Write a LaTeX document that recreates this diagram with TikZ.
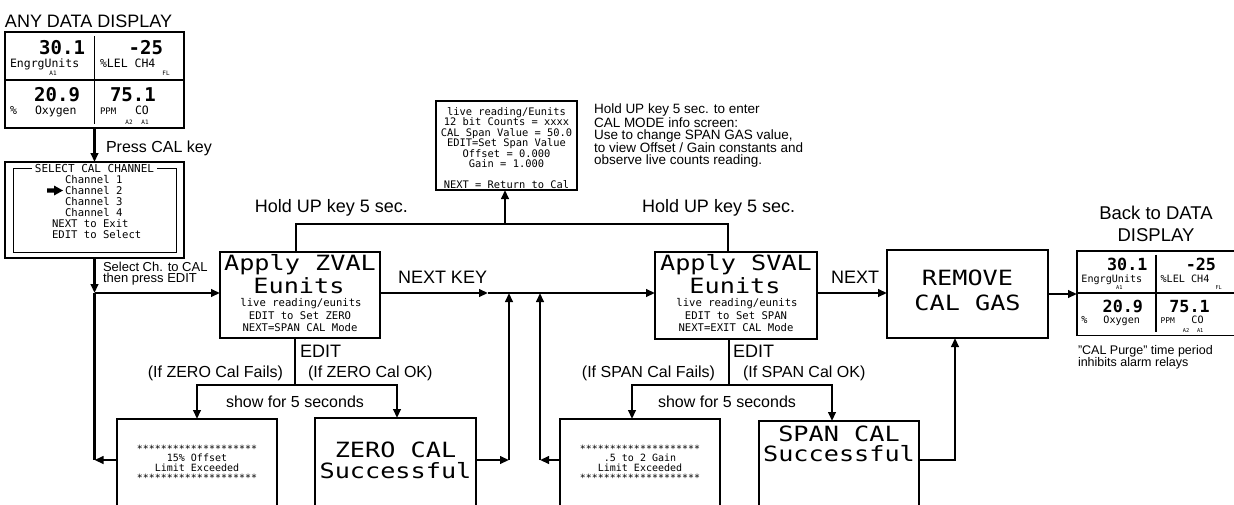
\documentclass[tikz,border=0pt]{standalone}
\usepackage{fontspec}
\setmainfont{Liberation Sans}
\newfontfamily\lcd{DejaVu Sans Mono}
\newfontfamily\lcdw[FakeStretch=1.2]{DejaVu Sans Mono}
\usetikzlibrary{arrows.meta}

% data display, local coordinates 0..179 x 0..96 (y down)
\newcommand\DataDisplay[1]{%
  \node[box, anchor=north west, minimum width=179pt, minimum height=96pt] (#1) at (0,0) {};
  \draw[line width=1.5pt] (#1.west) -- (#1.east);
  \draw[line width=1.5pt] (89.5,4) -- (89.5,92);
  \node[dig, anchor=base east] (#1n1) at (80,22) {30.1};
  \node[lcdmid, anchor=base west] (#1u1) at (5,35.5) {EngrgUnits};
  \node[lcdtiny] (#1a1) at (48,41) {A1};
  \node[dig, anchor=base east] (#1n2) at (158,22) {-25};
  \node[lcdmid, anchor=base west] (#1u2) at (95,35.5) {\%LEL CH4};
  \node[lcdtiny] (#1f) at (161,41) {FL};
  \node[dig, anchor=base east] (#1n3) at (75,69.5) {20.9};
  \node[lcdmid, anchor=base west] (#1u3) at (5,82) {\%};
  \node[lcdmid, anchor=base west] (#1u4) at (30,82) {Oxygen};
  \node[dig, anchor=base west] (#1n4) at (105,69.5) {75.1};
  \node[lcdsmall, anchor=base west] (#1u5) at (95,82) {PPM};
  \node[lcdmid, anchor=base west] (#1u6) at (130,82) {CO};
  \node[lcdtiny] (#1a2) at (124,90.5) {A2};
  \node[lcdtiny] (#1a3) at (140,90.5) {A1};
}

\begin{document}
\begin{tikzpicture}[x=1pt,y=-1pt,
  box/.style={draw,line width=1.3pt,inner sep=0pt,outer sep=0pt},
  conn/.style={line width=2.4pt},
  arr/.style={line width=2.4pt,-{Triangle[length=9pt,width=7.5pt]}},
  txt/.style={inner sep=0pt,outer sep=0pt},
  labA/.style={txt,font=\fontsize{18}{20}\selectfont},
  labB/.style={txt,font=\fontsize{16}{18}\selectfont},
  lcdbig/.style={txt,font=\lcdw\fontsize{21}{21}\selectfont},
  lcdsm/.style={txt,font=\lcd\fontsize{10.6}{12}\selectfont},
  lcdmid/.style={txt,font=\lcd\fontsize{11.5}{12}\selectfont},
  lcdsmall/.style={txt,font=\lcd\fontsize{9}{9}\selectfont},
  lcdtiny/.style={txt,font=\lcd\fontsize{6}{6}\selectfont},
  dig/.style={txt,font=\lcd\bfseries\fontsize{19}{20}\selectfont},
  lcdmsg/.style={txt,font=\lcd\fontsize{10}{9.6}\selectfont,align=center},
]
\fill[white] (0,0) rectangle (1234,504);
\useasboundingbox (0,0) rectangle (1234,504);

% ---------- left column ----------
\node[labA, anchor=base west] (anytitle) at (5,27) {ANY DATA DISPLAY};
\begin{scope}[shift={(5,32)}]
  \DataDisplay{disp}
\end{scope}
\node[labB, anchor=base west] (presscal) at (106,152) {Press CAL key};

\node[box, anchor=north west, minimum width=179pt, minimum height=96pt] (sel) at (5,162) {};
\node[draw, line width=1pt, anchor=north west, minimum width=163pt, minimum height=84pt, inner sep=0pt] (selin) at (13,168) {};
\node[txt, font=\lcd\fontsize{11}{12}\selectfont, fill=white, inner xsep=3pt] (seltitle) at (94.5,168) {SELECT CAL CHANNEL};
\node[lcdsm, anchor=base west] (ch1) at (65,183) {Channel 1};
\node[lcdsm, anchor=base west] (ch2) at (65,194) {Channel 2};
\node[lcdsm, anchor=base west] (ch3) at (65,205) {Channel 3};
\node[lcdsm, anchor=base west] (ch4) at (65,216) {Channel 4};
\node[lcdsm, anchor=base west] (nexit) at (52,227) {NEXT to Exit};
\node[lcdsm, anchor=base west] (esel) at (52,238) {EDIT to Select};
\fill (47,188.3) -- (54,188.3) -- (54,185.5) -- (63,190.5) -- (54,195.5) -- (54,192.7) -- (47,192.7) -- cycle;

\node[txt, font=\fontsize{13}{11}\selectfont, align=left, anchor=north west] (selnote) at (103,262.5) {Select Ch. to CAL\\then press EDIT};

% ---------- main boxes ----------
\node[box, minimum width=160pt, minimum height=86pt] (zval) at (300,295) {};
\node[lcdbig, anchor=base] (zv1) at (300,270) {Apply ZVAL};
\node[lcdbig, anchor=base] (zv2) at (299,293) {Eunits};
\node[lcdsm, anchor=base] (zv3) at (301,306) {live reading/eunits};
\node[lcdsm, anchor=base] (zv4) at (300,319) {EDIT to Set ZERO};
\node[lcdsm, anchor=base] (zv5) at (300,331) {NEXT=SPAN CAL Mode};

\node[box, minimum width=162pt, minimum height=87pt] (sval) at (736,295.5) {};
\node[lcdbig, anchor=base] (sv1) at (736,270) {Apply SVAL};
\node[lcdbig, anchor=base] (sv2) at (735,293) {Eunits};
\node[lcdsm, anchor=base] (sv3) at (737,306) {live reading/eunits};
\node[lcdsm, anchor=base] (sv4) at (736,319) {EDIT to Set SPAN};
\node[lcdsm, anchor=base] (sv5) at (736,331) {NEXT=EXIT CAL Mode};

\node[box, minimum width=161pt, minimum height=88pt] (remove) at (967.5,294) {};
\node[lcdbig, anchor=base] (rm1) at (967.5,285) {REMOVE};
\node[lcdbig, anchor=base] (rm2) at (967.5,310) {CAL GAS};

\node[box, minimum width=141pt, minimum height=89pt] (info) at (506.5,145.5) {};
\node[txt, font=\lcd\fontsize{10.4}{10.5}\selectfont, align=center] (infotxt) at (506.5,148) {live reading/Eunits\\12 bit Counts = xxxx\\CAL Span Value = 50.0\\EDIT=Set Span Value\\Offset = 0.000\\Gain = 1.000\\[10.5pt]NEXT = Return to Cal};
\node[txt, font=\fontsize{13.5}{12}\selectfont, align=left, anchor=north west] (infonote) at (594,104) {Hold UP key 5 sec. to enter\\CAL MODE info screen:\\Use to change SPAN GAS value,\\to view Offset / Gain constants and\\observe live counts reading.};

% ---------- result boxes ----------
\node[box, minimum width=160pt, minimum height=102pt, anchor=north] (zfail) at (197,419) {};
\node[lcdmsg] (zfailtxt) at (197,463) {********************\\15\% Offset\\Limit Exceeded\\********************};
\node[box, minimum width=161pt, minimum height=102pt, anchor=north] (zcal) at (395.5,418) {};
\node[lcdbig, anchor=base] (zc1) at (395.5,457) {ZERO CAL};
\node[lcdbig, anchor=base] (zc2) at (395.5,478) {Successful};

\node[box, minimum width=160pt, minimum height=102pt, anchor=north] (sfail) at (640,419) {};
\node[lcdmsg] (sfailtxt) at (640,463) {********************\\.5 to 2 Gain\\Limit Exceeded\\********************};
\node[box, minimum width=160pt, minimum height=102pt, anchor=north] (scal) at (839,421) {};
\node[lcdbig, anchor=base] (sc1) at (839,441) {SPAN CAL};
\node[lcdbig, anchor=base] (sc2) at (839,461.5) {Successful};

% ---------- right display ----------
\node[txt, font=\fontsize{18.5}{22}\selectfont, align=center, anchor=north] (backtitle) at (1156,206.5) {Back to DATA\\DISPLAY};
\begin{scope}[shift={(1077,251)}, scale=0.88, transform shape]
  \DataDisplay{back}
\end{scope}
\node[txt, font=\fontsize{12.5}{11.5}\selectfont, align=left, anchor=north west] (purge) at (1078,345) {"CAL Purge" time period\\inhibits alarm relays};

% ---------- labels ----------
\node[labA, anchor=base east] (holdL) at (408,212) {Hold UP key 5 sec.};
\node[labA, anchor=base west] (holdR) at (642,212) {Hold UP key 5 sec.};
\node[labA, anchor=base west] (nextkey) at (398,283) {NEXT KEY};
\node[labA, anchor=base west] (nextlab) at (831,283) {NEXT};
\node[labA, anchor=base west] (editZ) at (300,357) {EDIT};
\node[labA, anchor=base west] (editS) at (733,357) {EDIT};
\node[labB, anchor=base east] (zfails) at (283,377) {(If ZERO Cal Fails)};
\node[labB, anchor=base west] (zok) at (308,377) {(If ZERO Cal OK)};
\node[labB, anchor=base] (show1) at (295,407) {show for 5 seconds};
\node[labB, anchor=base east] (sfails) at (715,377) {(If SPAN Cal Fails)};
\node[labB, anchor=base west] (sok) at (743,377) {(If SPAN Cal OK)};
\node[labB, anchor=base] (show2) at (727,407) {show for 5 seconds};

% ---------- junction coordinates ----------
\coordinate (j1) at (94.5,293);
\coordinate (j2) at (94.5,460);
\coordinate (nk) at (488,293);
\coordinate (u1) at (509,460);
\coordinate (u1t) at (509,293);
\coordinate (u2) at (540,460);
\coordinate (u2t) at (540,293);
\coordinate (t1) at (296,224);
\coordinate (t2) at (728,224);
\coordinate (t0) at (505,224);
\coordinate (e1) at (295,385);
\coordinate (e1l) at (197,385);
\coordinate (e1r) at (397,385);
\coordinate (e2) at (729,385);
\coordinate (e2l) at (632,385);
\coordinate (e2r) at (832,385);
\coordinate (r1) at (955,460);

% ---------- connectors ----------
\draw[arr] (disp.south) -- (sel.north);
\draw[arr] (sel.south) -- (j1);
\draw[arr] (j1) -- (zval.west |- j1);
\draw[conn] (j1) -- (j2);
\draw[arr] (zfail.west |- j2) -- (j2);
\draw[arr] (zval.east |- nk) -- (nk);
\draw[arr] (nk) -- (sval.west |- nk);
\draw[arr] (zcal.east |- u1) -- (u1);
\draw[arr] (u1) -- (u1t);
\draw[arr] (sfail.west |- u2) -- (u2);
\draw[arr] (u2) -- (u2t);
\draw[conn] (zval.north -| t1) -- (t1) -- (t2) -- (sval.north -| t2);
\draw[arr] (t0) -- (info.south -| t0);
\draw[conn] (zval.south -| e1) -- (e1);
\draw[arr] (e1) -- (e1l) -- (zfail.north -| e1l);
\draw[arr] (e1) -- (e1r) -- (zcal.north -| e1r);
\draw[conn] (sval.south -| e2) -- (e2);
\draw[arr] (e2) -- (e2l) -- (sfail.north -| e2l);
\draw[arr] (e2) -- (e2r) -- (scal.north -| e2r);
\draw[arr] (sval.east |- nk) -- (remove.west |- nk);
\draw[arr] (scal.east |- r1) -- (r1) -- (remove.south -| r1);
\draw[arr] (remove.east) -- (remove.east -| back.west);
\end{tikzpicture}
\end{document}
